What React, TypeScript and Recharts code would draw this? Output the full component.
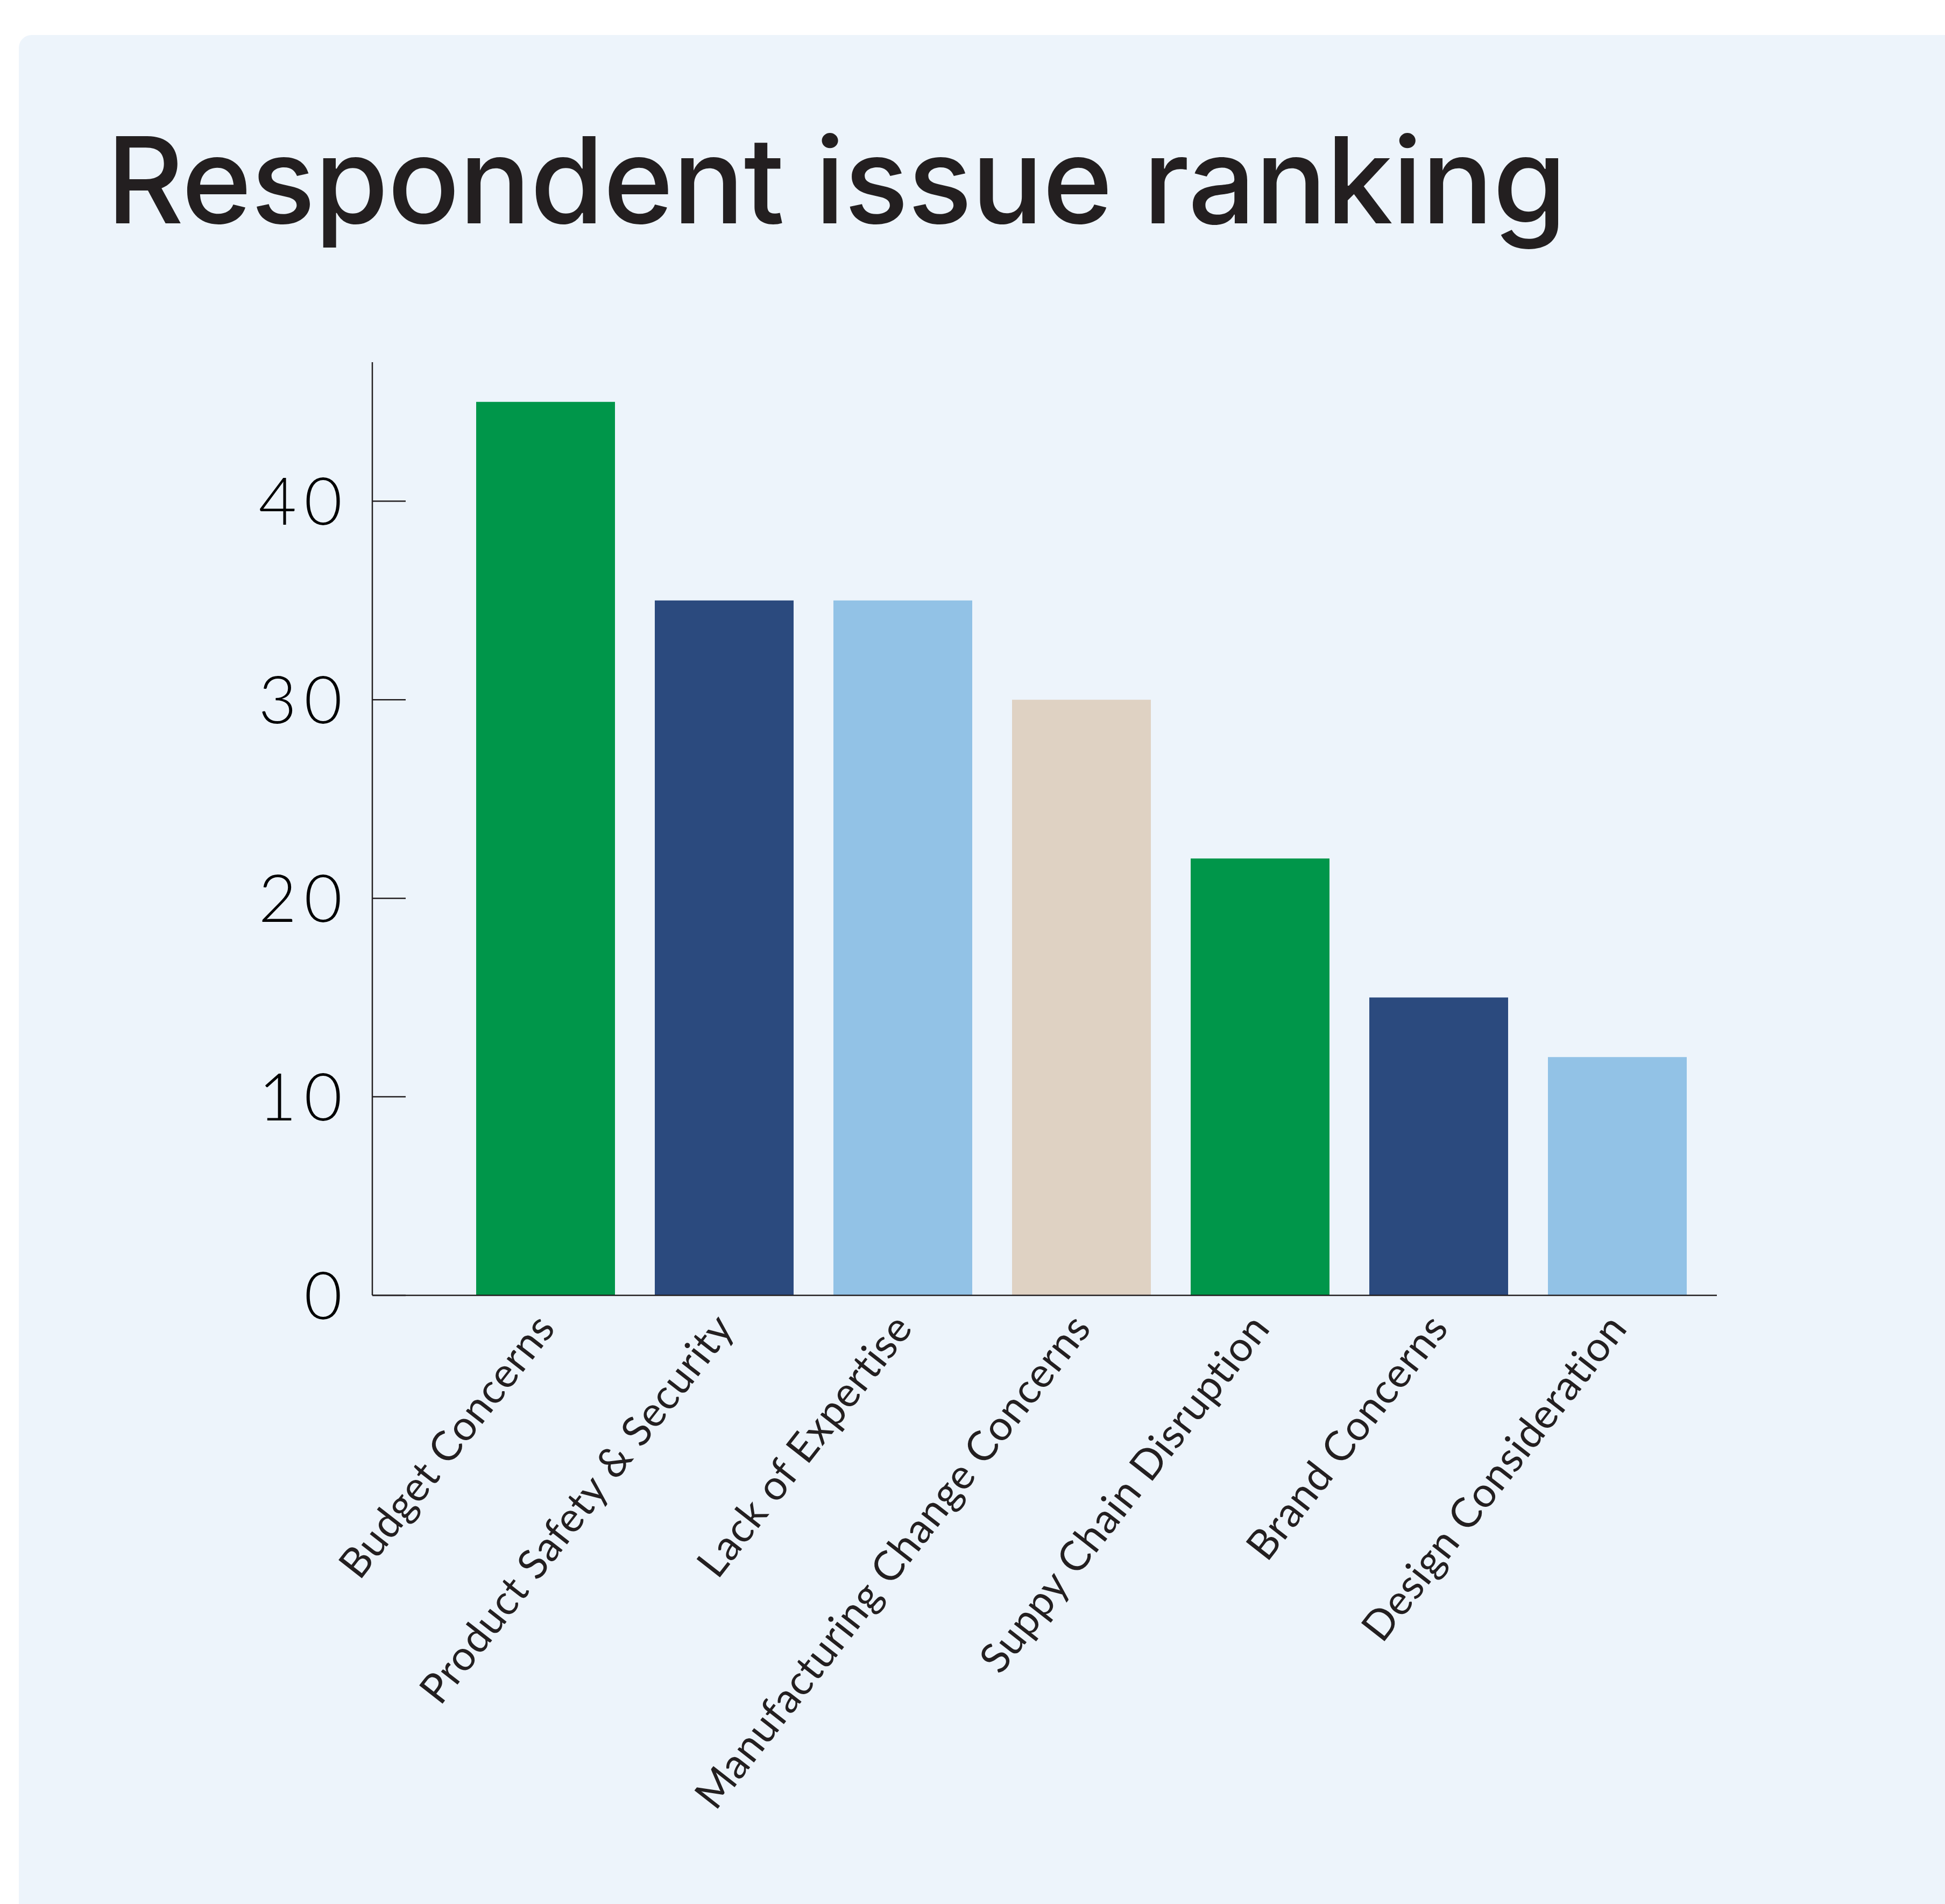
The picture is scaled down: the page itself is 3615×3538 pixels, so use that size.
import { BarChart, Bar, XAxis, YAxis, Cell } from 'recharts';

// issues ranked by respondents
const categories = [
  'Budget Concerns',
  'Product Safety & Security',
  'Lack of Expertise',
  'Manufacturing Change Concerns',
  'Suppy Chain Disruption',
  'Brand Concerns',
  'Design Consideration',
];
const respondents = [45, 35, 35, 30, 22, 15, 12];
const barColors = ['#00964A', '#2B4A7E', '#92C2E6', '#DFD2C3', '#00964A', '#2B4A7E', '#92C2E6'];
const yTicks = [0, 10, 20, 30, 40];

const data = categories.map((name, i) => ({ name, value: respondents[i] }));

const INK = '#231F20';

function CategoryTick(props: any) {
  const { x, y, payload } = props;
  return (
    <g transform={`translate(${x + 21},${y + 62})`}>
      <text
        textAnchor='end'
        transform='rotate(-52)'
        fontSize={77}
        fontFamily='Lato, sans-serif'
        letterSpacing={1}
        fill={INK}
      >
        {payload.value}
      </text>
    </g>
  );
}

function ValueTick(props: any) {
  const { x, y, payload } = props;
  return (
    <g>
      <line x1={x} x2={x + 62} y1={y} y2={y} stroke={INK} strokeWidth={2.5} />
      <text
        x={x - 42}
        y={y}
        dy='0.36em'
        textAnchor='end'
        fontSize={122}
        fontWeight={300}
        letterSpacing={14}
        fontFamily='Lato, sans-serif'
        fill='#000'
      >
        {payload.value}
      </text>
    </g>
  );
}

export default function App() {
  return (
    <div style={{ position: 'absolute', left: 0, top: 0, width: 3615, height: 3538, background: '#fff', overflow: 'hidden' }}>

      {/* panel */}
      <div
        style={{
          position: 'absolute',
          left: 35,
          top: 65,
          width: 3615 - 35,
          height: 3538 - 65,
          background: '#EDF4FB',
          borderTopLeftRadius: 24,
        }}
      />

      <svg width={3615} height={520} style={{ position: 'absolute', left: 0, top: 0 }}>
        <text
          x={198}
          y={415}
          fontSize={222}
          fontWeight={500}
          fontFamily='Inter, Lato, sans-serif'
          fill={INK}
          textLength={2714}
          lengthAdjust='spacing'
        >
          Respondent issue ranking
        </text>
      </svg>

      <div style={{ position: 'absolute', left: 0, top: 0 }}>
        <BarChart
          width={3615}
          height={3538}
          data={data}
          margin={{ top: 673, right: 424, bottom: 0, left: 0 }}
        >
          <XAxis
            dataKey='name'
            height={1131}
            interval={0}
            tickSize={0}
            tickMargin={0}
            tickLine={false}
            padding={{ left: 156, right: 19 }}
            axisLine={{ stroke: INK, strokeWidth: 2.5 }}
            tick={<CategoryTick />}
          />
          <YAxis
            width={692}
            domain={[0, 47]}
            ticks={yTicks}
            tickSize={0}
            tickMargin={0}
            tickLine={false}
            axisLine={{ stroke: INK, strokeWidth: 2.5 }}
            tick={<ValueTick />}
          />
          <Bar dataKey='value' barSize={258} isAnimationActive={false}>
            {data.map((entry, i) => (
              <Cell key={entry.name} fill={barColors[i]} />
            ))}
          </Bar>
        </BarChart>
      </div>
    </div>
  );
}
